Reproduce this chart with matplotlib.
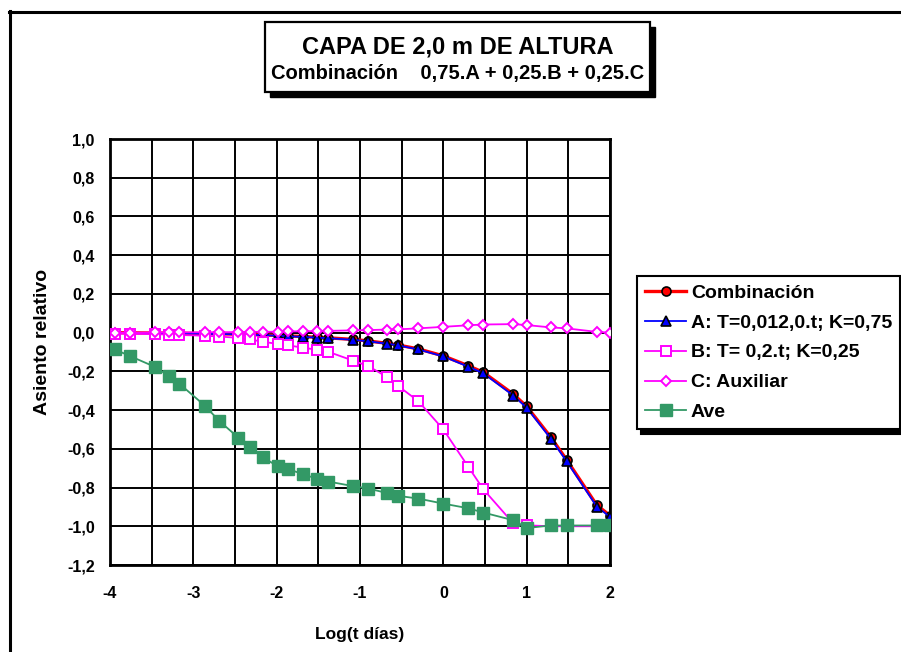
import matplotlib
matplotlib.use("Agg")
import matplotlib.pyplot as plt
from matplotlib.patches import Rectangle
from matplotlib.lines import Line2D

plt.rcParams['font.family'] = ['Liberation Sans', 'DejaVu Sans']
plt.rcParams['font.weight'] = 'bold'

# ---- data ----
log_t = [-3.94, -3.76, -3.46, -3.29, -3.17, -2.86, -2.69, -2.46, -2.32, -2.17,
         -1.99, -1.86, -1.69, -1.51, -1.38, -1.08, -0.90, -0.68, -0.54, -0.30,
         0.0, 0.30, 0.48, 0.84, 1.00, 1.29, 1.48, 1.84, 2.0]
combinacion = [0.0, -0.001, -0.002, -0.003, -0.003, -0.005, -0.006, -0.008, -0.010, -0.012,
               -0.014, -0.017, -0.020, -0.024, -0.027, -0.035, -0.043, -0.055, -0.064, -0.084,
               -0.120, -0.171, -0.205, -0.318, -0.381, -0.540, -0.657, -0.890, -0.945]
serie_a = [-0.001, -0.002, -0.003, -0.004, -0.004, -0.006, -0.007, -0.009, -0.011, -0.013,
           -0.016, -0.019, -0.022, -0.026, -0.029, -0.037, -0.045, -0.057, -0.066, -0.087,
           -0.123, -0.176, -0.210, -0.325, -0.388, -0.548, -0.665, -0.898, -0.952]
serie_b = [-0.005, -0.006, -0.008, -0.010, -0.012, -0.016, -0.020, -0.027, -0.035, -0.047,
           -0.058, -0.066, -0.077, -0.089, -0.099, -0.145, -0.173, -0.228, -0.276, -0.354,
           -0.500, -0.693, -0.809, -0.985, -0.995, -1.0, -1.0, -1.0, -1.0]
serie_c = [0.0, 0.0, 0.001, 0.001, 0.001, 0.002, 0.002, 0.003, 0.004, 0.004,
           0.005, 0.006, 0.007, 0.008, 0.009, 0.012, 0.013, 0.016, 0.017, 0.022,
           0.030, 0.038, 0.042, 0.044, 0.039, 0.027, 0.022, 0.004, 0.0]
ave = [-0.087, -0.121, -0.177, -0.225, -0.263, -0.378, -0.456, -0.542, -0.590, -0.642,
       -0.690, -0.704, -0.731, -0.755, -0.769, -0.793, -0.805, -0.828, -0.843, -0.857,
       -0.883, -0.907, -0.929, -0.969, -1.009, -0.996, -0.996, -0.996, -0.996]

labels = ['Combinación', 'A: T=0,012,0.t; K=0,75', 'B: T= 0,2.t; K=0,25',
          'C: Auxiliar', 'Ave']
x_ticks = [-4, -3, -2, -1, 0, 1, 2]
x_ticklabels = ['-4', '-3', '-2', '-1', '0', '1', '2']
y_ticks = [1.0, 0.8, 0.6, 0.4, 0.2, 0.0, -0.2, -0.4, -0.6, -0.8, -1.0, -1.2]
y_ticklabels = ['1,0', '0,8', '0,6', '0,4', '0,2', '0,0', '-0,2', '-0,4', '-0,6',
                '-0,8', '-1,0', '-1,2']

W, H = 901, 652
fig = plt.figure(figsize=(W / 100, H / 100), dpi=100)
fig.patch.set_facecolor('white')

def fx(px):
    return px / W

def fy(py):
    return 1 - py / H

# outer frame (left & top visible)
fig.add_artist(Line2D([fx(9.5), fx(9.5)], [fy(11), fy(H + 5)], color='black', lw=2.2,
                      transform=fig.transFigure))
fig.add_artist(Line2D([fx(8.5), fx(W + 5)], [fy(11.5), fy(11.5)], color='black', lw=2.2,
                      transform=fig.transFigure))

ax_l, ax_r, ax_t, ax_b = 110, 610, 139, 565
ax = fig.add_axes([fx(ax_l), fy(ax_b), fx(ax_r - ax_l), (ax_b - ax_t) / H])

ax.plot(log_t, combinacion, color='#FF0000', lw=2.4, marker='o', ms=6.5,
        mfc='#FF0000', mec='black', mew=1.2, label=labels[0], zorder=3)
ax.plot(log_t, serie_a, color='#0000FF', lw=1.3, marker='^', ms=7,
        mfc='#0000FF', mec='black', mew=1.2, label=labels[1], zorder=4)
ax.plot(log_t, serie_b, color='#FF00FF', lw=1.3, marker='s', ms=7,
        mfc='white', mec='#FF00FF', mew=1.4, label=labels[2], zorder=5)
ax.plot(log_t, serie_c, color='#FF00FF', lw=1.3, marker='D', ms=5.5,
        mfc='white', mec='#FF00FF', mew=1.4, label=labels[3], zorder=6)
ax.plot(log_t, ave, color='#339966', lw=1.3, marker='s', ms=8,
        mfc='#339966', mec='#339966', mew=1, label=labels[4], zorder=7)

ax.set_xlim(-4, 2)
ax.set_ylim(-1.2, 1.0)
ax.set_xticks(x_ticks)
ax.set_xticklabels(x_ticklabels)
ax.set_xticks([-3.5, -2.5, -1.5, -0.5, 0.5, 1.5], minor=True)
ax.set_yticks(y_ticks)
ax.set_yticklabels(y_ticklabels)
ax.grid(True, which='both', color='black', lw=1.4, zorder=0)
ax.set_axisbelow(True)
ax.tick_params(axis='both', which='both', length=0, labelsize=11.5)
ax.tick_params(axis='y', pad=11)
ax.tick_params(axis='x', pad=15)
for lab in ax.get_xticklabels() + ax.get_yticklabels():
    lab.set_fontweight('bold')
for sp in ax.spines.values():
    sp.set_linewidth(2)
    sp.set_color('black')

ax.set_xlabel('Log(t días)', fontsize=12.5, fontweight='bold', labelpad=19)
ax.set_ylabel('Asiento relativo', fontsize=14, fontweight='bold')
ax.yaxis.set_label_coords((51 - ax_l) / (ax_r - ax_l), (ax_b - 342) / (ax_b - ax_t))

# title box
tb_l, tb_t, tb_r, tb_b = 265, 22, 650, 92
sh = 5
fig.add_artist(Rectangle((fx(tb_l + sh), fy(tb_b + sh)), fx(tb_r - tb_l), (tb_b - tb_t) / H,
                         transform=fig.transFigure, facecolor='black', edgecolor='black'))
fig.add_artist(Rectangle((fx(tb_l), fy(tb_b)), fx(tb_r - tb_l), (tb_b - tb_t) / H,
                         transform=fig.transFigure, facecolor='white', edgecolor='black', lw=1.6))
fig.text(fx((tb_l + tb_r) / 2), fy(47), 'CAPA DE 2,0 m DE ALTURA', ha='center', va='center',
         fontsize=17, fontweight='bold')
fig.text(fx((tb_l + tb_r) / 2), fy(74), 'Combinación    0,75.A + 0,25.B + 0,25.C',
         ha='center', va='center', fontsize=14.5, fontweight='bold')

# legend
leg = ax.legend(loc='upper left', bbox_to_anchor=(fx(637), fy(276)),
                bbox_transform=fig.transFigure, borderaxespad=0, frameon=True,
                fancybox=False, edgecolor='black', fontsize=14, handlelength=2.1,
                handletextpad=0.25, labelspacing=0.63, borderpad=0.42,
                shadow={'color': 'black', 'alpha': 1, 'ox': 3, 'oy': -3})
leg.get_frame().set_linewidth(1.5)
for t in leg.get_texts():
    t.set_fontweight('bold')

fig.savefig('out.png', dpi=100, facecolor='white')
